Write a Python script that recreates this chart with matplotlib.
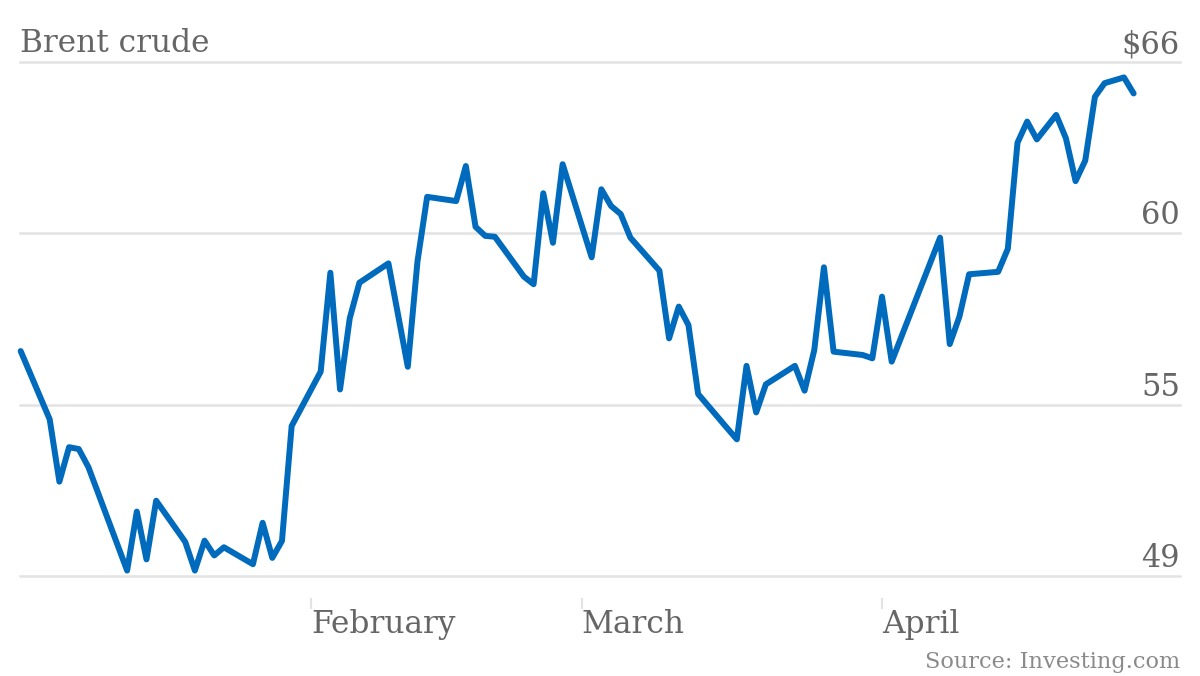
import matplotlib
matplotlib.use('Agg')
import matplotlib.pyplot as plt
import matplotlib.transforms as mtransforms
import numpy as np
import pandas as pd

# Brent crude, daily close
dates = [
    '2015-01-02', '2015-01-05', '2015-01-06', '2015-01-07', '2015-01-08', '2015-01-09',
    '2015-01-13', '2015-01-14', '2015-01-15', '2015-01-16', '2015-01-19', '2015-01-20',
    '2015-01-21', '2015-01-22', '2015-01-23', '2015-01-26', '2015-01-27', '2015-01-28',
    '2015-01-29', '2015-01-30', '2015-02-02', '2015-02-03', '2015-02-04', '2015-02-05',
    '2015-02-06', '2015-02-09', '2015-02-11', '2015-02-12', '2015-02-13', '2015-02-16',
    '2015-02-17', '2015-02-18', '2015-02-19', '2015-02-20', '2015-02-23', '2015-02-24',
    '2015-02-25', '2015-02-26', '2015-02-27', '2015-03-02', '2015-03-03', '2015-03-04',
    '2015-03-05', '2015-03-06', '2015-03-09', '2015-03-10', '2015-03-11', '2015-03-12',
    '2015-03-13', '2015-03-16', '2015-03-17', '2015-03-18', '2015-03-19', '2015-03-20',
    '2015-03-23', '2015-03-24', '2015-03-25', '2015-03-26', '2015-03-27', '2015-03-30',
    '2015-03-31', '2015-04-01', '2015-04-02', '2015-04-07', '2015-04-08', '2015-04-09',
    '2015-04-10', '2015-04-13', '2015-04-14', '2015-04-15', '2015-04-16', '2015-04-17',
    '2015-04-19', '2015-04-20', '2015-04-21', '2015-04-22', '2015-04-23', '2015-04-24',
    '2015-04-26', '2015-04-27',
]
prices = [
    56.44, 54.18, 52.12, 53.26, 53.20, 52.60,
    49.18, 51.13, 49.55, 51.49, 50.13, 49.18,
    50.17, 49.68, 49.95, 49.39, 50.76, 49.60,
    50.16, 53.96, 55.76, 59.03, 55.17, 57.52,
    58.70, 59.34, 55.92, 59.40, 61.54, 61.40,
    62.56, 60.55, 60.25, 60.22, 58.90, 58.65,
    61.66, 60.02, 62.62, 59.54, 61.79, 61.24,
    60.97, 60.19, 59.10, 56.86, 57.91, 57.30,
    55.02, 53.89, 53.52, 55.95, 54.41, 55.34,
    55.95, 55.13, 56.47, 59.21, 56.42, 56.31,
    56.20, 58.24, 56.09, 60.19, 56.67, 57.58,
    58.98, 59.06, 59.82, 63.33, 64.03, 63.44,
    64.25, 63.48, 62.06, 62.74, 64.85, 65.30,
    65.49, 64.96,
]

y_min, y_max = 49, 66
y_labels = ['49', '55', '60', '$66']
month_ticks = ['2015-02-01', '2015-03-01', '2015-04-01']
month_labels = ['February', 'March', 'April']

title = 'Brent crude'
source = 'Source: Investing.com'

TEXT = '#666666'
LINE = '#006bbd'
GRID = '#e3e3e3'
FONT = 'DejaVu Serif'

df = pd.DataFrame({'date': pd.to_datetime(dates), 'price': prices})

fig = plt.figure(figsize=(12, 6.76), dpi=100)
ax = fig.add_axes([20 / 1200, 100 / 676, 1160 / 1200, 514 / 676])

ax.plot(df['date'], df['price'], color=LINE, lw=4.3,
        solid_joinstyle='round', solid_capstyle='round', clip_on=False, zorder=3)

ax.set_xlim(pd.Timestamp('2015-01-01 22:20'), pd.Timestamp('2015-05-01 19:00'))
ax.set_ylim(y_min, y_max)

# evenly spaced gridlines, labels rounded as in the original
y_ticks = np.linspace(y_min, y_max, len(y_labels))
ax.set_yticks(y_ticks)
ax.yaxis.grid(True, color=GRID, lw=1.8)
for gl in ax.get_ygridlines():
    gl.set_clip_on(False)
ax.tick_params(axis='y', length=0, labelleft=False)
ax.set_axisbelow(True)

lab_trans = mtransforms.offset_copy(
    mtransforms.blended_transform_factory(ax.transAxes, ax.transData),
    fig=fig, x=0, y=9, units='dots')
for val, lab in zip(y_ticks, y_labels):
    ax.text(1.0, val, lab, transform=lab_trans, ha='right', va='baseline',
            fontsize=22, color=TEXT, family=FONT)

for s in ax.spines.values():
    s.set_visible(False)
ax.spines['bottom'].set_position(('outward', 16))

ax.set_xticks(pd.to_datetime(month_ticks))
ax.set_xticklabels(month_labels, ha='left', fontsize=22.5, color=TEXT, family=FONT)
ax.tick_params(axis='x', length=8, width=1.5, color=GRID, pad=0)

fig.text(20 / 1200, 1 - 52 / 676, title, ha='left', va='baseline',
         fontsize=22.5, color=TEXT, family=FONT)
fig.text(1180 / 1200, 1 - 668 / 676, source, ha='right', va='baseline',
         fontsize=16.2, color='#8a8a8a', family=FONT)

fig.savefig('out.png', dpi=100)
